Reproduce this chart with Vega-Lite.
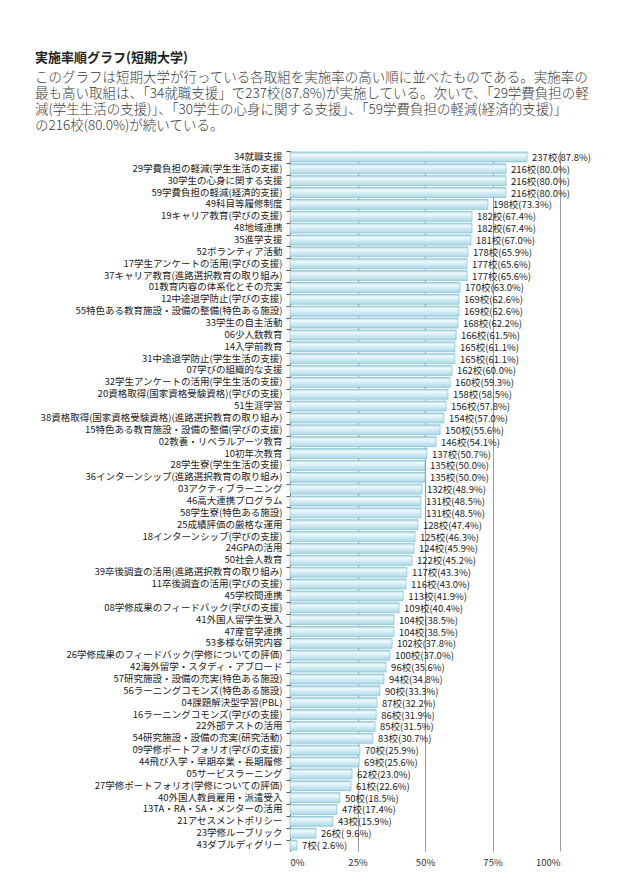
{
  "$schema": "https://vega.github.io/schema/vega-lite/v6.json",
  "autosize": {"type": "none"},
  "width": 270,
  "height": 700,
  "padding": {"left": 290, "top": 151, "right": 80, "bottom": 45},
  "background": "white",
  "title": {
    "text": "実施率順グラフ(短期大学)",
    "subtitle": [
      "　このグラフは短期大学が行っている各取組を実施率の高い順に並べたものである。実施率の",
      "最も高い取組は、「34就職支援」で237校(87.8%)が実施している。次いで、「29学費負担の軽",
      "減(学生生活の支援)」、「30学生の心身に関する支援」、「59学費負担の軽減(経済的支援)」",
      "の216校(80.0%)が続いている。"
    ],
    "anchor": "start",
    "frame": "group",
    "dx": -255,
    "dy": -3,
    "offset": 15,
    "font": "Noto Sans CJK JP",
    "fontSize": 13,
    "fontWeight": "bold",
    "color": "#222222",
    "subtitleFont": "Noto Sans CJK JP",
    "subtitleFontSize": 13.5,
    "subtitleFontWeight": 300,
    "subtitleLineHeight": 16,
    "subtitleColor": "#3a3a3a",
    "subtitlePadding": 6
  },
  "data": {
    "values": [
      {"name": "34就職支援", "count": 237, "pct": 87.8},
      {"name": "29学費負担の軽減(学生生活の支援)", "count": 216, "pct": 80.0},
      {"name": "30学生の心身に関する支援", "count": 216, "pct": 80.0},
      {"name": "59学費負担の軽減(経済的支援)", "count": 216, "pct": 80.0},
      {"name": "49科目等履修制度", "count": 198, "pct": 73.3},
      {"name": "19キャリア教育(学びの支援)", "count": 182, "pct": 67.4},
      {"name": "48地域連携", "count": 182, "pct": 67.4},
      {"name": "35進学支援", "count": 181, "pct": 67.0},
      {"name": "52ボランティア活動", "count": 178, "pct": 65.9},
      {"name": "17学生アンケートの活用(学びの支援)", "count": 177, "pct": 65.6},
      {"name": "37キャリア教育(進路選択教育の取り組み)", "count": 177, "pct": 65.6},
      {"name": "01教育内容の体系化とその充実", "count": 170, "pct": 63.0},
      {"name": "12中途退学防止(学びの支援)", "count": 169, "pct": 62.6},
      {"name": "55特色ある教育施設・設備の整備(特色ある施設)", "count": 169, "pct": 62.6},
      {"name": "33学生の自主活動", "count": 168, "pct": 62.2},
      {"name": "06少人数教育", "count": 166, "pct": 61.5},
      {"name": "14入学前教育", "count": 165, "pct": 61.1},
      {"name": "31中途退学防止(学生生活の支援)", "count": 165, "pct": 61.1},
      {"name": "07学びの組織的な支援", "count": 162, "pct": 60.0},
      {"name": "32学生アンケートの活用(学生生活の支援)", "count": 160, "pct": 59.3},
      {"name": "20資格取得(国家資格受験資格)(学びの支援)", "count": 158, "pct": 58.5},
      {"name": "51生涯学習", "count": 156, "pct": 57.8},
      {"name": "38資格取得(国家資格受験資格)(進路選択教育の取り組み)", "count": 154, "pct": 57.0},
      {"name": "15特色ある教育施設・設備の整備(学びの支援)", "count": 150, "pct": 55.6},
      {"name": "02教養・リベラルアーツ教育", "count": 146, "pct": 54.1},
      {"name": "10初年次教育", "count": 137, "pct": 50.7},
      {"name": "28学生寮(学生生活の支援)", "count": 135, "pct": 50.0},
      {"name": "36インターンシップ(進路選択教育の取り組み)", "count": 135, "pct": 50.0},
      {"name": "03アクティブラーニング", "count": 132, "pct": 48.9},
      {"name": "46高大連携プログラム", "count": 131, "pct": 48.5},
      {"name": "58学生寮(特色ある施設)", "count": 131, "pct": 48.5},
      {"name": "25成績評価の厳格な運用", "count": 128, "pct": 47.4},
      {"name": "18インターンシップ(学びの支援)", "count": 125, "pct": 46.3},
      {"name": "24GPAの活用", "count": 124, "pct": 45.9},
      {"name": "50社会人教育", "count": 122, "pct": 45.2},
      {"name": "39卒後調査の活用(進路選択教育の取り組み)", "count": 117, "pct": 43.3},
      {"name": "11卒後調査の活用(学びの支援)", "count": 116, "pct": 43.0},
      {"name": "45学校間連携", "count": 113, "pct": 41.9},
      {"name": "08学修成果のフィードバック(学びの支援)", "count": 109, "pct": 40.4},
      {"name": "41外国人留学生受入", "count": 104, "pct": 38.5},
      {"name": "47産官学連携", "count": 104, "pct": 38.5},
      {"name": "53多様な研究内容", "count": 102, "pct": 37.8},
      {"name": "26学修成果のフィードバック(学修についての評価)", "count": 100, "pct": 37.0},
      {"name": "42海外留学・スタディ・アブロード", "count": 96, "pct": 35.6},
      {"name": "57研究施設・設備の充実(特色ある施設)", "count": 94, "pct": 34.8},
      {"name": "56ラーニングコモンズ(特色ある施設)", "count": 90, "pct": 33.3},
      {"name": "04課題解決型学習(PBL)", "count": 87, "pct": 32.2},
      {"name": "16ラーニングコモンズ(学びの支援)", "count": 86, "pct": 31.9},
      {"name": "22外部テストの活用", "count": 85, "pct": 31.5},
      {"name": "54研究施設・設備の充実(研究活動)", "count": 83, "pct": 30.7},
      {"name": "09学修ポートフォリオ(学びの支援)", "count": 70, "pct": 25.9},
      {"name": "44飛び入学・早期卒業・長期履修", "count": 69, "pct": 25.6},
      {"name": "05サービスラーニング", "count": 62, "pct": 23.0},
      {"name": "27学修ポートフォリオ(学修についての評価)", "count": 61, "pct": 22.6},
      {"name": "40外国人教員雇用・派遣受入", "count": 50, "pct": 18.5},
      {"name": "13TA・RA・SA・メンターの活用", "count": 47, "pct": 17.4},
      {"name": "21アセスメントポリシー", "count": 43, "pct": 15.9},
      {"name": "23学修ルーブリック", "count": 26, "pct": 9.6},
      {"name": "43ダブルディグリー", "count": 7, "pct": 2.6}
    ]
  },
  "transform": [
    {"calculate": "datum.count + '校(' + (datum.pct < 10 ? ' ' : '') + format(datum.pct, '.1f') + '%)'", "as": "label"}
  ],
  "encoding": {
    "y": {
      "field": "name",
      "type": "nominal",
      "sort": null,
      "scale": {"paddingInner": 0.16, "paddingOuter": 0.08},
      "axis": {
        "title": null,
        "labelFont": "Noto Sans CJK JP",
        "labelFontSize": 9.5,
        "labelColor": "#222222",
        "labelLimit": 400,
        "labelPadding": 4,
        "tickSize": 4,
        "tickColor": "#555555",
        "bandPosition": 0,
        "domainColor": "#555555",
        "grid": false
      }
    },
    "x": {
      "field": "pct",
      "type": "quantitative",
      "scale": {"domain": [0, 100], "nice": false},
      "axis": {
        "title": null,
        "values": [0, 25, 50, 75, 100],
        "labelExpr": "datum.value + '%'",
        "labelFont": "Noto Sans CJK JP",
        "labelFontSize": 9.5,
        "labelColor": "#333333",
        "labelPadding": 6,
        "domain": false,
        "ticks": false,
        "grid": true,
        "gridColor": "#9a9a9a",
        "gridWidth": 1
      }
    }
  },
  "layer": [
    {
      "mark": {
        "type": "bar",
        "color": {
          "gradient": "linear",
          "x1": 0, "y1": 0, "x2": 0, "y2": 1,
          "stops": [
            {"offset": 0, "color": "#9ccfdd"},
            {"offset": 0.25, "color": "#f0f9fc"},
            {"offset": 1, "color": "#a9d8e5"}
          ]
        },
        "stroke": "#86c0d0",
        "strokeWidth": 0.7
      }
    },
    {
      "mark": {
        "type": "text",
        "align": "left",
        "baseline": "middle",
        "dx": 5,
        "dy": 1,
        "font": "Noto Sans CJK JP",
        "fontSize": 9.5,
        "color": "#222222"
      },
      "encoding": {"text": {"field": "label"}}
    }
  ],
  "config": {"view": {"stroke": null}}
}
